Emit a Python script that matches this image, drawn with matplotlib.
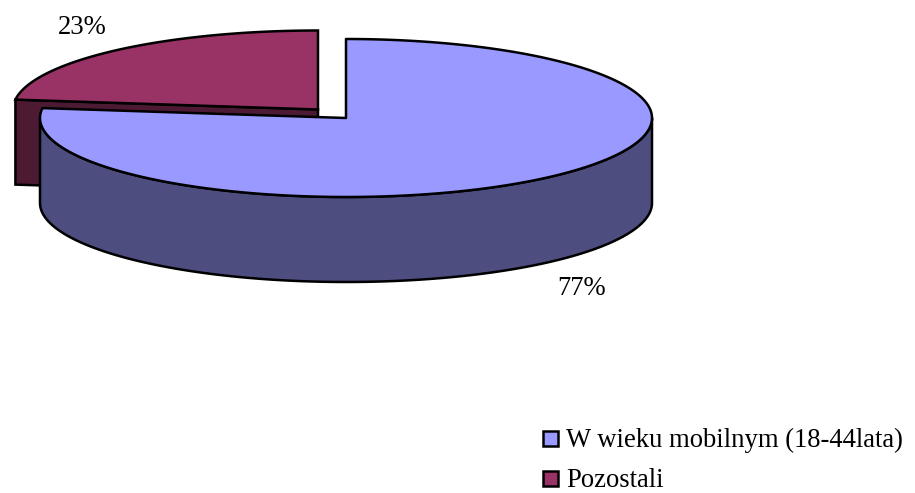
import numpy as np
import matplotlib
matplotlib.use("Agg")
import matplotlib.pyplot as plt
from matplotlib.patches import Polygon, Rectangle

categories = ["W wieku mobilnym (18-44lata)", "Pozostali"]
values = [77, 23]
value_labels = ["77%", "23%"]
top_colors = ["#9999FF", "#993366"]
side_colors = ["#4D4D80", "#4D1A33"]

W, H = 915, 493
fig = plt.figure(figsize=(W / 100, H / 100), dpi=100)
ax = fig.add_axes([0, 0, 1, 1])
ax.set_xlim(0, W)
ax.set_ylim(H, 0)
ax.axis("off")
plt.rcParams["font.family"] = ["Liberation Serif", "DejaVu Serif"]

fractions = np.array(values) / sum(values)
edges = np.concatenate([[0], np.cumsum(fractions)]) * 2 * np.pi
DEPTH = 85
LW = 1.8


def ell(cx, cy, rx, ry, a):
    return np.column_stack([cx + rx * np.sin(a), cy - ry * np.cos(a)])


# second slice (exploded, drawn first)
cx, cy, rx, ry = 318, 109.5, 305, 79
a0, a1 = edges[1], edges[2]
p0 = ell(cx, cy, rx, ry, np.array([a0]))[0]
ax.add_patch(Polygon([p0, (cx, cy), (cx, cy + DEPTH), (p0[0], p0[1] + DEPTH)],
                     closed=True, fc=side_colors[1], ec="black", lw=LW, joinstyle="miter"))
arc = ell(cx, cy, rx, ry, np.linspace(a0, a1, 120))
ax.add_patch(Polygon(np.vstack([[(cx, cy)], arc]), closed=True,
                     fc=top_colors[1], ec="black", lw=LW, joinstyle="miter"))

# first slice
cx, cy, rx, ry = 346, 118, 306, 79
a0, a1 = edges[0], edges[1]
wall = ell(cx, cy, rx, ry, np.linspace(np.pi / 2, 3 * np.pi / 2, 200))
wall_poly = np.vstack([wall, (wall + [0, DEPTH])[::-1]])
ax.add_patch(Polygon(wall_poly, closed=True, fc=side_colors[0], ec="black", lw=LW, joinstyle="round"))
arc = ell(cx, cy, rx, ry, np.linspace(a0, a1, 300))
ax.add_patch(Polygon(np.vstack([[(cx, cy)], arc]), closed=True,
                     fc=top_colors[0], ec="black", lw=LW, joinstyle="round"))

# value labels
FS = 19.2
ax.text(582, 295, value_labels[0], fontsize=FS, ha="center", va="baseline")
ax.text(82.5, 33.5, value_labels[1], fontsize=FS, ha="center", va="baseline")

# legend
for name, color, y, base in zip(categories, top_colors, [431, 471], [447, 487]):
    ax.add_patch(Rectangle((543, y), 15, 15, fc=color, ec="black", lw=LW))
    ax.text(566.5, base, name, fontsize=FS, ha="left", va="baseline")

fig.savefig("out.png", dpi=100)
